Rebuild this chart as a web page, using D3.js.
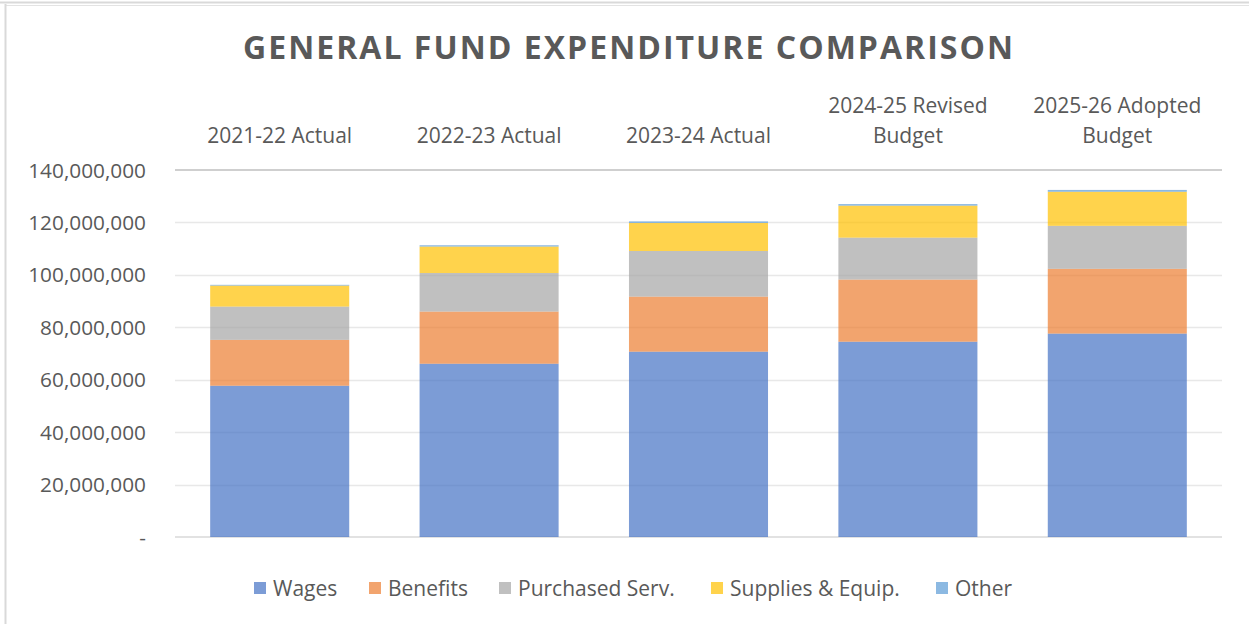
<!DOCTYPE html>
<html>
<head>
<meta charset="utf-8">
<script src="https://cdn.jsdelivr.net/npm/d3@7"></script>
<style>
  body { margin: 0; background: #fff; }
  text { font-family: "Open Sans", sans-serif; fill: #595959; }
</style>
</head>
<body>
<svg id="chart" width="1249" height="624"></svg>
<script>
// General fund expenditure comparison -- stacked columns

var years = ["2021-22 Actual", "2022-23 Actual", "2023-24 Actual",
             "2024-25 Revised Budget", "2025-26 Adopted Budget"];
var yearLines = [["2021-22 Actual"], ["2022-23 Actual"], ["2023-24 Actual"],
                 ["2024-25 Revised", "Budget"], ["2025-26 Adopted", "Budget"]];

var seriesNames = ["Wages", "Benefits", "Purchased Serv.", "Supplies & Equip.", "Other"];
var seriesColors = ["#4472c4", "#ed7d31", "#a5a5a5", "#ffc000", "#5b9bd5"];

var wages     = [57700000, 66100000, 70700000, 74500000, 77600000];
var benefits  = [17500000, 19900000, 21000000, 23700000, 24700000];
var purchased = [12700000, 14700000, 17400000, 16000000, 16400000];
var supplies  = [ 8000000, 10100000, 10700000, 12200000, 13000000];
var other     = [  300000,   500000,   600000,   600000,   700000];

var yTicks = [0, 20000000, 40000000, 60000000, 80000000, 100000000, 120000000, 140000000];

var rows = years.map(function (y, i) {
  return {
    year: y,
    "Wages": wages[i],
    "Benefits": benefits[i],
    "Purchased Serv.": purchased[i],
    "Supplies & Equip.": supplies[i],
    "Other": other[i]
  };
});

var svg = d3.select("#chart");

// frame lines
svg.append("line").attr("x1", 0).attr("x2", 1249).attr("y1", 2.5).attr("y2", 2.5)
  .attr("stroke", "#d9d9d9").attr("stroke-width", 2);
svg.append("line").attr("x1", 6).attr("x2", 1249).attr("y1", 5.5).attr("y2", 5.5)
  .attr("stroke", "#e3e3e3").attr("stroke-width", 1);
svg.append("line").attr("x1", 5.5).attr("x2", 5.5).attr("y1", 4).attr("y2", 624)
  .attr("stroke", "#d9d9d9").attr("stroke-width", 2);

var x = d3.scaleBand().domain(years).range([175, 1222]).paddingInner(0.336).paddingOuter(0.168);
var y = d3.scaleLinear().domain([0, 140000000]).range([537, 170]);

// gridlines
svg.append("g").selectAll("line").data(yTicks.slice(1, -1)).join("line")
  .attr("x1", 175).attr("x2", 1222)
  .attr("y1", function (d) { return Math.round(y(d)) + 0.5; })
  .attr("y2", function (d) { return Math.round(y(d)) + 0.5; })
  .attr("stroke", "#e8e8e8").attr("stroke-width", 1.3);

svg.append("line").attr("x1", 175).attr("x2", 1222)
  .attr("y1", y(0)).attr("y2", y(0))
  .attr("stroke", "#d9d9d9").attr("stroke-width", 1.5);

// y axis labels
var fmt = d3.format(",");
svg.append("g").selectAll("text").data(yTicks).join("text")
  .attr("x", 146)
  .attr("y", function (d) { return y(d) + 7.5; })
  .attr("text-anchor", "end")
  .style("font-size", "20.8px")
  .text(function (d) { return d === 0 ? "-" : fmt(d); });

// stacked bars
var stack = d3.stack().keys(seriesNames);
var layers = stack(rows);

svg.append("g").selectAll("g").data(layers).join("g")
  .attr("fill", function (d, i) { return seriesColors[i]; })
  .attr("fill-opacity", 0.7)
  .selectAll("rect").data(function (d) { return d; }).join("rect")
  .attr("x", function (d) { return x(d.data.year); })
  .attr("width", x.bandwidth())
  .attr("y", function (d) { return y(d[1]); })
  .attr("height", function (d) { return y(d[0]) - y(d[1]); });

// category axis sits on top
svg.append("line").attr("x1", 175).attr("x2", 1222)
  .attr("y1", y(140000000)).attr("y2", y(140000000))
  .attr("stroke", "#bfbfbf").attr("stroke-width", 1.5);

var cats = svg.append("g").selectAll("text").data(years).join("text")
  .attr("text-anchor", "middle")
  .style("font-size", "21px");
cats.each(function (d, i) {
  var lines = yearLines[i];
  var cx = x(d) + x.bandwidth() / 2;
  var t = d3.select(this);
  lines.forEach(function (ln, j) {
    t.append("tspan")
      .attr("x", cx)
      .attr("y", 143 - (lines.length - 1 - j) * 30)
      .text(ln);
  });
});

// title
svg.append("text")
  .attr("x", 628).attr("y", 59)
  .attr("text-anchor", "middle")
  .attr("textLength", 770).attr("lengthAdjust", "spacing")
  .style("font-size", "32px").style("font-weight", "bold")
  .text("GENERAL FUND EXPENDITURE COMPARISON");

// legend
var legendX = [254, 369, 499, 711, 936];
var legend = svg.append("g").selectAll("g").data(seriesNames).join("g")
  .attr("transform", function (d, i) { return "translate(" + legendX[i] + ",582)"; });
legend.append("rect")
  .attr("width", 12).attr("height", 12)
  .attr("fill", function (d, i) { return seriesColors[i]; })
  .attr("fill-opacity", 0.7);
legend.append("text")
  .attr("x", 19).attr("y", 13.5)
  .style("font-size", "21px")
  .text(function (d) { return d; });
</script>
</body>
</html>
